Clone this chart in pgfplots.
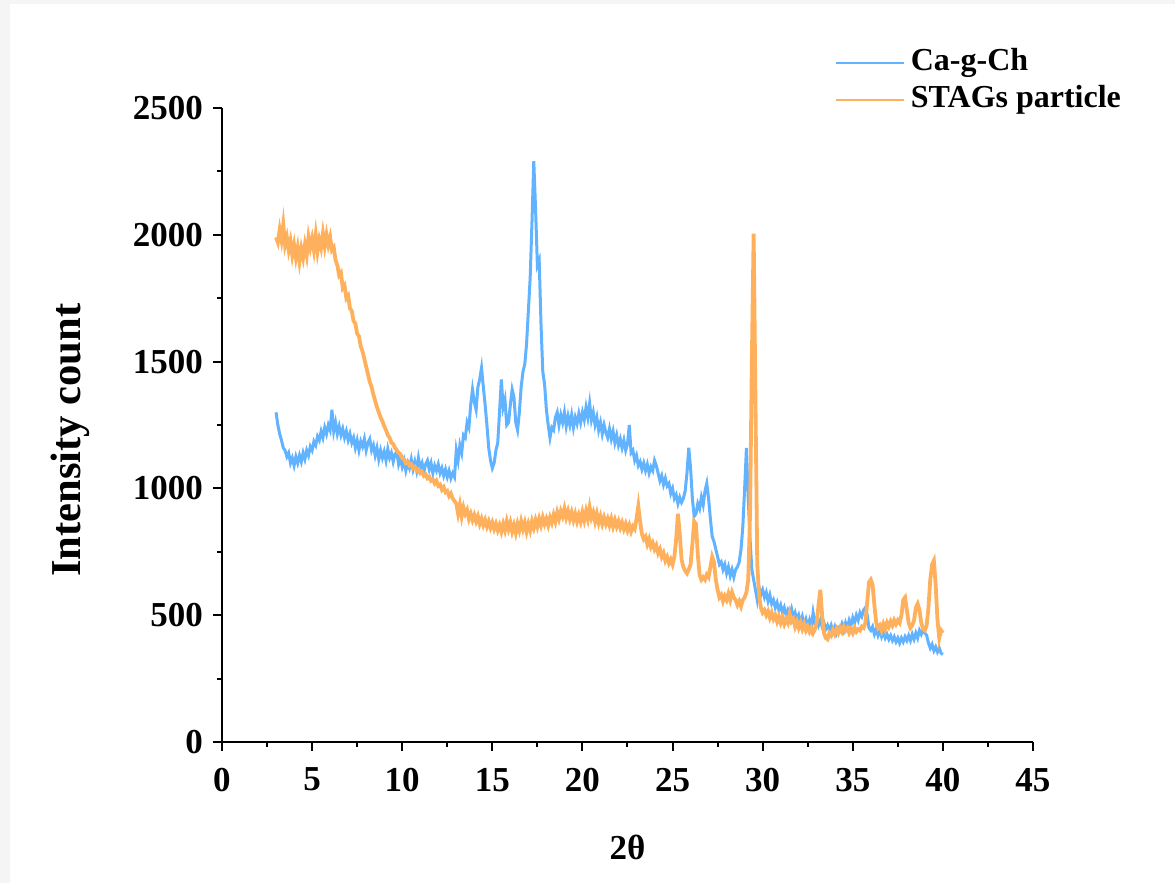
\documentclass[border=0pt]{standalone}
\usepackage{fontspec}
\setmainfont{Liberation Serif}
\usepackage{pgfplots}
\pgfplotsset{compat=1.18}
\definecolor{cachblue}{RGB}{97,178,255}
\definecolor{stagorange}{RGB}{255,176,92}
\newcommand\chartfont{\bfseries\fontsize{17.5}{21}\selectfont}
\newcommand\legfont{\bfseries\fontsize{16}{19}\selectfont}
\newcommand\ylabfont{\bfseries\fontsize{21.3}{25}\selectfont}

\pgfplotstableread{
x y
3.0 1300
3.1 1250
3.2 1215
3.3 1190
3.4 1160
3.5 1150
3.6 1125
3.7 1140
3.8 1100
3.9 1120
4.0 1090
4.1 1125
4.2 1100
4.3 1130
4.4 1105
4.5 1140
4.6 1115
4.7 1150
4.8 1130
4.9 1165
5.0 1150
5.1 1185
5.2 1170
5.3 1205
5.4 1190
5.5 1225
5.6 1200
5.7 1240
5.8 1215
5.9 1250
6.0 1230
6.1 1310
6.2 1225
6.3 1260
6.4 1215
6.5 1245
6.6 1210
6.7 1235
6.8 1200
6.9 1225
7.0 1190
7.1 1215
7.2 1180
7.3 1200
7.4 1160
7.5 1190
7.6 1150
7.7 1185
7.8 1165
7.9 1195
8.0 1150
8.1 1180
8.2 1195
8.3 1150
8.4 1170
8.5 1130
8.6 1160
8.7 1115
8.8 1150
8.9 1120
9.0 1145
9.1 1110
9.2 1155
9.3 1120
9.4 1140
9.5 1105
9.6 1135
9.7 1145
9.8 1095
9.9 1120
10.0 1085
10.1 1110
10.2 1070
10.3 1100
10.4 1080
10.5 1115
10.6 1075
10.7 1105
10.8 1070
10.9 1120
11.0 1080
11.1 1100
11.2 1065
11.3 1095
11.4 1110
11.5 1075
11.6 1100
11.7 1060
11.8 1090
11.9 1070
12.0 1095
12.1 1060
12.2 1080
12.3 1050
12.4 1075
12.5 1045
12.6 1070
12.7 1040
12.8 1060
12.9 1045
13.0 1150
13.1 1110
13.2 1170
13.3 1140
13.4 1210
13.5 1200
13.6 1260
13.7 1240
13.8 1330
13.9 1390
14.0 1340
14.1 1310
14.2 1400
14.3 1430
14.4 1475
14.5 1400
14.6 1330
14.7 1250
14.8 1160
14.9 1110
15.0 1080
15.1 1100
15.2 1150
15.3 1180
15.4 1300
15.5 1430
15.6 1320
15.7 1350
15.8 1250
15.9 1260
16.0 1330
16.1 1390
16.2 1360
16.3 1260
16.4 1230
16.5 1300
16.6 1400
16.7 1460
16.8 1490
16.9 1570
17.0 1700
17.1 1830
17.2 2050
17.3 2290
17.4 2100
17.5 1880
17.6 1900
17.7 1650
17.8 1460
17.9 1410
18.0 1310
18.1 1250
18.2 1200
18.3 1240
18.4 1230
18.5 1280
18.6 1300
18.7 1250
18.8 1290
18.9 1260
19.0 1300
19.1 1245
19.2 1285
19.3 1250
19.4 1290
19.5 1240
19.6 1280
19.7 1255
19.8 1295
19.9 1260
20.0 1300
20.1 1270
20.2 1320
20.3 1280
20.4 1335
20.5 1270
20.6 1300
20.7 1250
20.8 1280
20.9 1230
21.0 1260
21.1 1215
21.2 1250
21.3 1220
21.4 1200
21.5 1235
21.6 1195
21.7 1225
21.8 1180
21.9 1210
22.0 1170
22.1 1195
22.2 1160
22.3 1190
22.4 1150
22.5 1175
22.6 1250
22.7 1140
22.8 1150
22.9 1110
23.0 1130
23.1 1090
23.2 1105
23.3 1075
23.4 1100
23.5 1070
23.6 1095
23.7 1060
23.8 1085
23.9 1070
24.0 1110
24.1 1090
24.2 1060
24.3 1030
24.4 1050
24.5 1015
24.6 1040
24.7 1010
24.8 1020
24.9 980
25.0 1000
25.1 960
25.2 975
25.3 940
25.4 965
25.5 945
25.6 960
25.7 990
25.8 1060
25.9 1160
26.0 1080
26.1 960
26.2 890
26.3 900
26.4 940
26.5 920
26.6 965
26.7 935
26.8 990
26.9 1020
27.0 960
27.1 880
27.2 810
27.3 790
27.4 760
27.5 730
27.6 700
27.7 710
27.8 680
27.9 700
28.0 665
28.1 690
28.2 655
28.3 680
28.4 650
28.5 680
28.6 690
28.7 710
28.8 760
28.9 850
29.0 1000
29.1 1160
29.2 960
29.3 800
29.4 680
29.5 640
29.6 600
29.7 560
29.8 610
29.9 580
30.0 600
30.1 570
30.2 590
30.3 555
30.4 580
30.5 545
30.6 560
30.7 530
30.8 550
30.9 520
31.0 540
31.1 510
31.2 530
31.3 500
31.4 520
31.5 500
31.6 525
31.7 490
31.8 510
31.9 480
32.0 500
32.1 470
32.2 495
32.3 465
32.4 485
32.5 455
32.6 480
32.7 450
32.8 510
32.9 470
33.0 490
33.1 460
33.2 480
33.3 455
33.4 470
33.5 445
33.6 460
33.7 440
33.8 460
33.9 435
34.0 455
34.1 430
34.2 450
34.3 440
34.4 465
34.5 440
34.6 470
34.7 450
34.8 480
34.9 460
35.0 490
35.1 470
35.2 500
35.3 480
35.4 510
35.5 495
35.6 520
35.7 530
35.8 500
35.9 450
36.0 440
36.1 455
36.2 425
36.3 445
36.4 420
36.5 440
36.6 415
36.7 435
36.8 410
36.9 425
37.0 405
37.1 420
37.2 400
37.3 415
37.4 395
37.5 410
37.6 390
37.7 410
37.8 395
37.9 415
38.0 400
38.1 420
38.2 400
38.3 425
38.4 405
38.5 430
38.6 410
38.7 440
38.8 425
38.9 445
39.0 430
39.1 420
39.2 390
39.3 370
39.4 385
39.5 360
39.6 375
39.7 355
39.8 370
39.9 350
40.0 345
}\cagch

\pgfplotstableread{
x y
3.0 1990
3.1 1970
3.2 2020
3.3 1980
3.4 2040
3.5 1960
3.6 1990
3.7 1940
3.8 1975
3.9 1920
4.0 1960
4.1 1910
4.2 1950
4.3 1895
4.4 1945
4.5 1910
4.6 1960
4.7 1920
4.8 1990
4.9 1950
5.0 1985
5.1 1940
5.2 2000
5.3 1935
5.4 1980
5.5 1950
5.6 2005
5.7 1955
5.8 2000
5.9 1960
6.0 1990
6.1 1940
6.2 1950
6.3 1900
6.4 1880
6.5 1840
6.6 1850
6.7 1790
6.8 1800
6.9 1750
7.0 1760
7.1 1710
7.2 1700
7.3 1660
7.4 1650
7.5 1610
7.6 1600
7.7 1560
7.8 1540
7.9 1510
8.0 1480
8.1 1450
8.2 1420
8.3 1400
8.4 1370
8.5 1345
8.6 1320
8.7 1300
8.8 1280
8.9 1265
9.0 1245
9.1 1230
9.2 1210
9.3 1200
9.4 1180
9.5 1175
9.6 1160
9.7 1150
9.8 1140
9.9 1135
10.0 1120
10.1 1115
10.2 1100
10.3 1105
10.4 1090
10.5 1095
10.6 1080
10.7 1085
10.8 1070
10.9 1075
11.0 1060
11.1 1065
11.2 1050
11.3 1055
11.4 1040
11.5 1045
11.6 1030
11.7 1035
11.8 1020
11.9 1030
12.0 1010
12.1 1015
12.2 995
12.3 1005
12.4 985
12.5 990
12.6 970
12.7 980
12.8 960
12.9 950
13.0 940
13.1 900
13.2 935
13.3 890
13.4 925
13.5 900
13.6 915
13.7 880
13.8 900
13.9 875
14.0 895
14.1 870
14.2 890
14.3 860
14.4 880
14.5 855
14.6 875
14.7 850
14.8 870
14.9 845
15.0 865
15.1 840
15.2 860
15.3 835
15.4 855
15.5 830
15.6 860
15.7 835
15.8 870
15.9 840
16.0 865
16.1 830
16.2 855
16.3 825
16.4 860
16.5 835
16.6 870
16.7 840
16.8 865
16.9 830
17.0 860
17.1 835
17.2 870
17.3 845
17.4 875
17.5 850
17.6 880
17.7 855
17.8 885
17.9 860
18.0 880
18.1 855
18.2 885
18.3 865
18.4 895
18.5 870
18.6 905
18.7 880
18.8 910
18.9 890
19.0 920
19.1 885
19.2 910
19.3 880
19.4 905
19.5 875
19.6 900
19.7 870
19.8 895
19.9 870
20.0 905
20.1 875
20.2 910
20.3 880
20.4 925
20.5 885
20.6 905
20.7 870
20.8 900
20.9 865
21.0 890
21.1 860
21.2 885
21.3 860
21.4 880
21.5 855
21.6 880
21.7 850
21.8 875
21.9 850
22.0 870
22.1 845
22.2 865
22.3 840
22.4 860
22.5 835
22.6 855
22.7 830
22.8 850
22.9 840
23.0 880
23.1 930
23.2 870
23.3 820
23.4 800
23.5 810
23.6 780
23.7 800
23.8 770
23.9 785
24.0 760
24.1 775
24.2 745
24.3 760
24.4 730
24.5 745
24.6 715
24.7 730
24.8 705
24.9 720
25.0 700
25.1 730
25.2 800
25.3 900
25.4 820
25.5 720
25.6 690
25.7 675
25.8 665
25.9 680
26.0 700
26.1 780
26.2 870
26.3 860
26.4 740
26.5 660
26.6 640
26.7 650
26.8 640
26.9 660
27.0 650
27.1 690
27.2 730
27.3 710
27.4 640
27.5 600
27.6 570
27.7 580
27.8 555
27.9 575
28.0 560
28.1 585
28.2 560
28.3 590
28.4 570
28.5 560
28.6 540
28.7 555
28.8 535
28.9 560
29.0 570
29.1 590
29.2 640
29.3 900
29.4 1500
29.5 2005
29.6 1350
29.7 700
29.8 580
29.9 530
30.0 510
30.1 520
30.2 500
30.3 515
30.4 490
30.5 510
30.6 485
30.7 500
30.8 475
30.9 495
31.0 470
31.1 490
31.2 465
31.3 485
31.4 470
31.5 505
31.6 475
31.7 485
31.8 455
31.9 475
32.0 450
32.1 470
32.2 445
32.3 465
32.4 440
32.5 455
32.6 435
32.7 450
32.8 430
32.9 445
33.0 470
33.1 540
33.2 600
33.3 500
33.4 430
33.5 410
33.6 405
33.7 430
33.8 420
33.9 440
34.0 425
34.1 445
34.2 430
34.3 450
34.4 435
34.5 455
34.6 440
34.7 450
34.8 430
34.9 445
35.0 430
35.1 450
35.2 435
35.3 445
35.4 440
35.5 455
35.6 450
35.7 470
35.8 550
35.9 630
36.0 640
36.1 620
36.2 540
36.3 470
36.4 450
36.5 460
36.6 440
36.7 465
36.8 445
36.9 470
37.0 455
37.1 475
37.2 460
37.3 480
37.4 465
37.5 480
37.6 470
37.7 500
37.8 560
37.9 570
38.0 520
38.1 470
38.2 450
38.3 460
38.4 480
38.5 530
38.6 545
38.7 520
38.8 470
38.9 445
39.0 440
39.1 460
39.2 530
39.3 640
39.4 700
39.5 715
39.6 620
39.7 480
39.8 410
39.9 440
40.0 430
}\stags

\begin{document}
\begin{tikzpicture}
\path[use as bounding box] (-111pt,-70.5pt) rectangle (476.5pt,371pt);
% light frame of the original screenshot
\fill[gray!8] (-111pt,-70.5pt) rectangle (-106pt,371pt);
\fill[gray!8] (-111pt,369pt) rectangle (476.5pt,371pt);
\begin{axis}[
    at={(0,0)}, anchor=south west,
    scale only axis, width=405.5pt, height=317pt,
    xmin=0, xmax=45, ymin=0, ymax=2500,
    axis lines*=left,
    axis line style={line width=1pt, black},
    xtick={0,5,...,45}, ytick={0,500,...,2500},
    minor x tick num=1, minor y tick num=1,
    tick align=outside,
    every tick/.style={line width=1pt, black},
    major tick length=4.5pt, minor tick length=2.5pt,
    ticklabel style={font=\chartfont},
    xticklabel style={yshift=-5pt},
    yticklabel style={xshift=-1.5pt},
    /pgf/number format/assume math mode=true,
    /pgf/number format/set thousands separator={},
    xlabel={2θ}, ylabel={Intensity count},
    xlabel style={font=\chartfont, at={(axis description cs:0.5,-0.167)}, anchor=center},
    ylabel style={font=\ylabfont, at={(axis description cs:-0.1874,0.476)}, anchor=center},
    legend style={at={(axis description cs:0.7545,1.101)}, anchor=north west,
      draw=none, fill=none, font=\legfont, inner sep=0pt, row sep=0pt,
      nodes={inner xsep=3pt, inner ysep=2pt, text height=11pt, text depth=3.5pt},
      cells={anchor=west}},
    legend image code/.code={\draw[#1, line width=1.3pt] (0pt,0pt) -- (34pt,0pt);},
  ]
  \addplot[color=cachblue, line width=1.5pt] table {\cagch};
  \addlegendentry{Ca-g-Ch}
  \addplot[color=stagorange, line width=1.9pt] table {\stags};
  \addlegendentry{STAGs particle}
\end{axis}
\end{tikzpicture}
\end{document}
